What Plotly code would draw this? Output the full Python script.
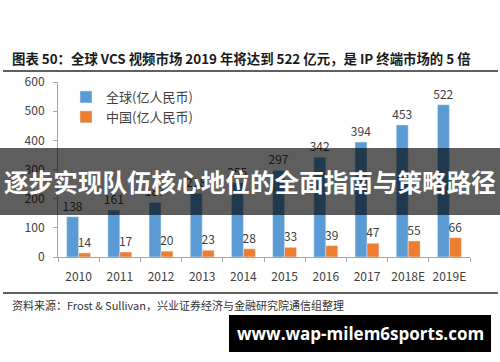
import plotly.graph_objects as go

years = ["2010", "2011", "2012", "2013", "2014", "2015", "2016", "2017", "2018E", "2019E"]
global_vals = [138, 161, 187, 218, 255, 297, 342, 394, 453, 522]
china_vals = [14, 17, 20, 23, 28, 33, 39, 47, 55, 66]
series_names = ["全球(亿人民币)", "中国(亿人民币)"]
y_ticks = [0, 100, 200, 300, 400, 500, 600]

W, H = 500, 362
L, R, T, B = 58, 30, 82, 105
pw, ph = W - L - R, H - T - B

def px(x):
    return (x - L) / pw

def py(y):
    return (H - B - y) / ph

fig = go.Figure()
fig.add_trace(go.Bar(x=years, y=global_vals, name=series_names[0], marker_color="#5B9BD5",
                     text=global_vals, textposition="outside", cliponaxis=False,
                     constraintext="none",
                     textfont=dict(size=12, color="#404040")))
fig.add_trace(go.Bar(x=years, y=china_vals, name=series_names[1], marker_color="#ED7D31",
                     text=china_vals, textposition="outside", cliponaxis=False,
                     constraintext="none",
                     textfont=dict(size=12, color="#404040")))

font_main = "Noto Sans CJK SC, Open Sans, sans-serif"
fig.update_layout(
    width=W, height=H,
    margin=dict(l=L, r=R, t=T, b=B),
    paper_bgcolor="white", plot_bgcolor="white",
    barmode="group", bargap=0.42, bargroupgap=0,
    font=dict(family=font_main, color="#404040"),
    showlegend=True,
    legend=dict(x=px(66), y=1.0, xanchor="left", yanchor="top",
                font=dict(size=13, color="#404040"), bgcolor="rgba(0,0,0,0)",
                tracegroupgap=0, itemwidth=30),
    xaxis=dict(showline=True, linecolor="#A6A6A6", ticks="outside", tickson="boundaries",
               ticklen=4, tickcolor="#A6A6A6", tickfont=dict(size=12, color="#404040"),
               tickangle=0, showgrid=False, automargin=False, ticklabelstandoff=9),
    yaxis=dict(range=[0, 600], tickvals=y_ticks, showline=True, linecolor="#A6A6A6",
               ticks="outside", ticklen=4, tickcolor="#A6A6A6", showgrid=False,
               zeroline=False, tickfont=dict(size=12, color="#404040"), automargin=False,
               ticklabelstandoff=6),
)

shapes = [
    dict(type="line", xref="paper", yref="paper", x0=px(3), x1=px(498), y0=py(71), y1=py(71),
         line=dict(color="#606060", width=2)),
    dict(type="line", xref="paper", yref="paper", x0=px(3), x1=px(498), y0=py(293), y1=py(293),
         line=dict(color="#606060", width=2)),
    dict(type="rect", xref="paper", yref="paper", x0=px(0), x1=px(500), y0=py(215), y1=py(148),
         fillcolor="rgba(0,0,0,0.63)", line=dict(width=0), layer="above"),
    dict(type="rect", xref="paper", yref="paper", x0=px(229), x1=px(491), y0=py(352), y1=py(315),
         fillcolor="black", line=dict(width=0), layer="above"),
]
fig.update_layout(shapes=shapes)

annotations = [
    dict(text="<b>图表 50：全球 VCS 视频市场 2019 年将达到 522 亿元，是 IP 终端市场的 5 倍</b>",
         xref="paper", yref="paper", x=px(10), y=py(58), xanchor="left", yanchor="middle",
         showarrow=False, font=dict(size=13.4, color="#1a1a1a", family=font_main)),
    dict(text="资料来源：Frost & Sullivan，兴业证券经济与金融研究院通信组整理",
         xref="paper", yref="paper", x=px(10), y=py(305), xanchor="left", yanchor="middle",
         showarrow=False, font=dict(size=11, color="#333333", family=font_main)),
    dict(text="<b>逐步实现队伍核心地位的全面指南与策略路径</b>",
         xref="paper", yref="paper", x=px(250), y=py(181), xanchor="center", yanchor="middle",
         showarrow=False, font=dict(size=24.6, color="white", family=font_main)),
    dict(text="<b>www.wap-milem6sports.com</b>",
         xref="paper", yref="paper", x=px(360), y=py(333), xanchor="center", yanchor="middle",
         showarrow=False, font=dict(size=17, color="white", family="Open Sans, sans-serif")),
]
fig.update_layout(annotations=annotations)

fig.write_html("out.html", config={"displayModeBar": False},
               post_script="document.body.style.margin='0';document.body.style.overflow='hidden';")
